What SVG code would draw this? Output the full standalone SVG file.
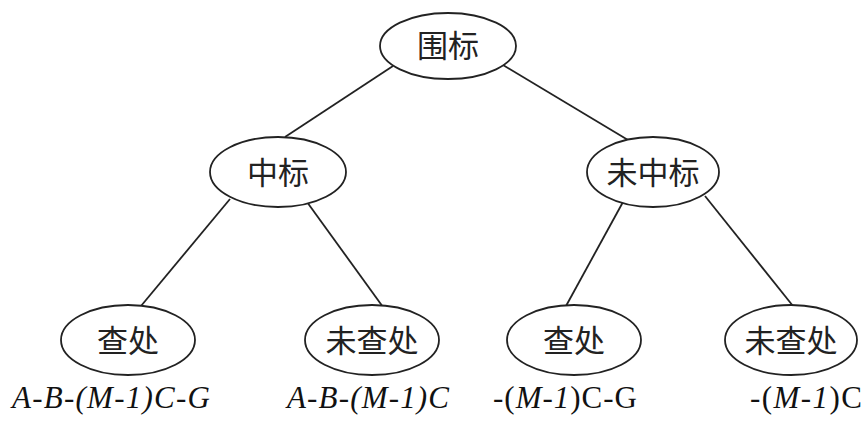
<svg xmlns="http://www.w3.org/2000/svg" width="866" height="438" viewBox="0 0 866 438">
<style>
.n ellipse{fill:#fff;stroke:#222;stroke-width:1.8}
.n text{font-family:"Noto Sans CJK SC","Noto Sans CJK JP",sans-serif;font-size:31px;fill:#222;text-anchor:middle}
#edges line{stroke:#222;stroke-width:1.8}
.lbl{font-family:"Liberation Serif","Times New Roman",serif;font-size:31px;fill:#111}
.i{font-style:italic}
</style>
<rect width="866" height="438" fill="#fff"/>
<g id="edges">
<line x1="393" y1="66" x2="285" y2="137"/>
<line x1="503" y1="65" x2="628" y2="140"/>
<line x1="230" y1="199" x2="141" y2="306"/>
<line x1="307" y1="202" x2="383" y2="307"/>
<line x1="623" y1="202" x2="566" y2="306"/>
<line x1="705" y1="196" x2="793" y2="306"/>
</g>
<g id="root" class="n"><ellipse cx="448" cy="46" rx="68" ry="33"/><text x="448" y="57">围标</text></g>
<g id="zhongbiao" class="n"><ellipse cx="278" cy="172" rx="68" ry="35"/><text x="278" y="184">中标</text></g>
<g id="weizhongbiao" class="n"><ellipse cx="653" cy="172" rx="66" ry="35"/><text x="653" y="184">未中标</text></g>
<g id="chachu1" class="n"><ellipse cx="128" cy="340" rx="67" ry="35"/><text x="128" y="352">查处</text></g>
<g id="weichachu1" class="n"><ellipse cx="372" cy="340" rx="67" ry="35"/><text x="372" y="352">未查处</text></g>
<g id="chachu2" class="n"><ellipse cx="574" cy="340" rx="67" ry="35"/><text x="574" y="352">查处</text></g>
<g id="weichachu2" class="n"><ellipse cx="791" cy="340" rx="66" ry="35"/><text x="791" y="352">未查处</text></g>
<g id="labels">
<text class="lbl i" x="12" y="408" textLength="198" lengthAdjust="spacing">A-B-(M-1)C-G</text>
<text class="lbl i" x="287" y="408" textLength="162" lengthAdjust="spacing">A-B-(M-1)C</text>
<text class="lbl" x="493" y="408" textLength="144" lengthAdjust="spacing">-(<tspan class="i">M-1</tspan>)C-G</text>
<text class="lbl" x="750" y="408" textLength="112" lengthAdjust="spacing">-(<tspan class="i">M-1</tspan>)C</text>
</g>
</svg>
